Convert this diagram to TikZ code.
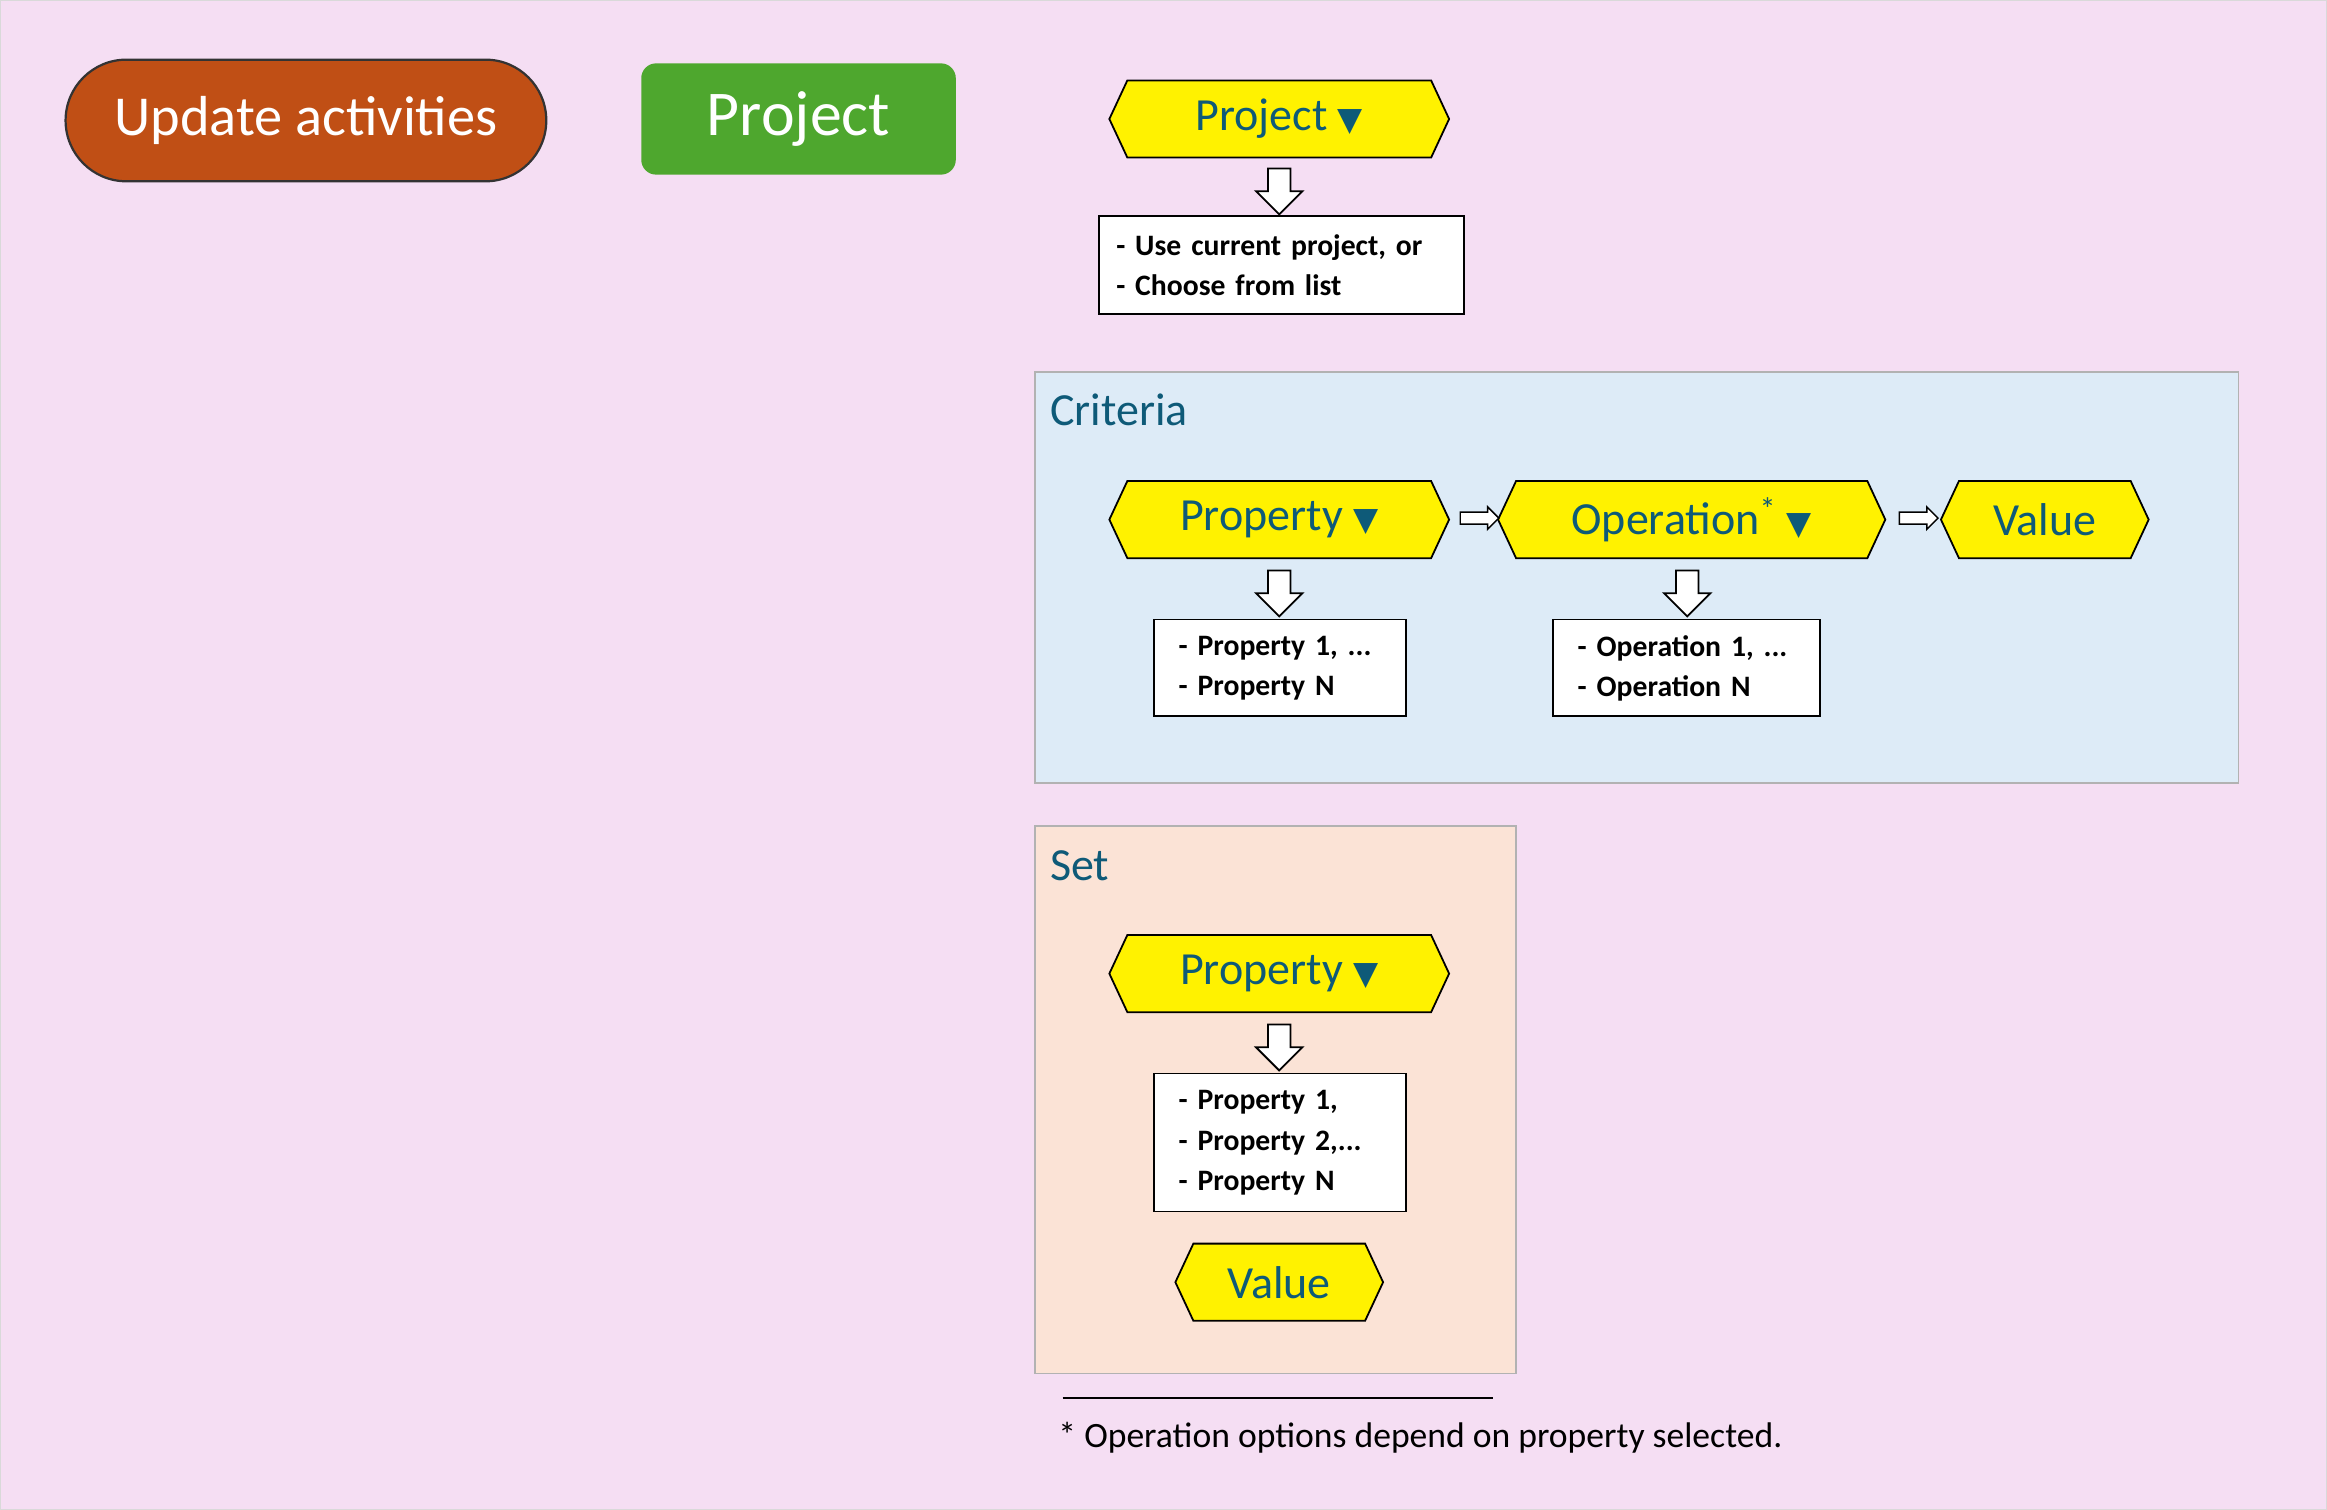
\documentclass[tikz,border=0pt]{standalone}
\usepackage{fontspec}
\setmainfont{Carlito}
\newfontfamily\symf{DejaVu Sans}
\usetikzlibrary{shapes.symbols,shapes.arrows}
\definecolor{bgpink}{HTML}{F5DEF3}
\definecolor{teal}{HTML}{0E5A78}
\definecolor{rust}{HTML}{C04F15}
\definecolor{grn}{HTML}{4EA72E}
\definecolor{blu}{HTML}{DDEBF7}
\definecolor{peach}{HTML}{FBE3D6}
\newcommand{\dn}{{\symf\fontsize{22}{24}\selectfont ▼}}
\begin{document}
\begin{tikzpicture}[x=1pt,y=-1pt,
 hex/.style={signal, signal to=east and west, signal pointer angle=130, draw=black, line width=1.2pt, fill=yellow, text=teal, font=\fontsize{31}{33}\selectfont, minimum height=52pt, inner sep=0pt, anchor=center},
 lst/.style={draw=black, line width=1pt, fill=white, anchor=north west, align=left, font=\fontsize{20}{27}\selectfont\bfseries, inner sep=0pt},
 darr/.style={single arrow, draw=black, line width=1.2pt, fill=white, shape border rotate=270, minimum height=31pt, minimum width=30pt, single arrow head extend=8pt, inner sep=7pt},
 rarr/.style={single arrow, draw=black, line width=1pt, fill=white, minimum height=26pt, minimum width=14pt, single arrow head extend=3.5pt, inner sep=3.5pt},
 panel/.style={draw=black!30, line width=1pt},
 ttl/.style={anchor=west, text=teal, font=\fontsize{31}{33}\selectfont}]
\fill[bgpink,draw=black!15] (0,0) rectangle (1568,1017);
\useasboundingbox (0,0) rectangle (1568,1017);
\node (upd) [draw=black!80, line width=1.5pt, fill=rust, text=white, rounded corners=41pt, minimum width=324pt, minimum height=82pt, font=\fontsize{38}{40}\selectfont] at (206,81) {Update activities};
\node (proj) [fill=grn, text=white, rounded corners=10pt, minimum width=212pt, minimum height=75pt, font=\fontsize{43}{45}\selectfont] at (538,80) {Project};
\node (ph) [hex, minimum width=229pt] at (862,80) {Project \dn};
\node (pa) [darr] at (862,125) {};
\node (pl) [lst, minimum width=246pt, minimum height=66pt, text width=236pt, inner xsep=5pt] at (740,145) {\,\,- Use current project, or\\\,\,- Choose from list};
% Criteria
\node (crit) [panel, fill=blu, minimum width=811pt, minimum height=277pt, anchor=north west] at (697,250) {};
\node (critt) [ttl] at (704,276) {Criteria};
\node (cp) [hex, minimum width=229pt] at (862,350) {Property \dn};
\node (co) [hex, minimum width=261pt] at (1140,350) {Operation\textsuperscript{*} \dn};
\node (cv) [hex, minimum width=140pt] at (1378,350) {Value};
\node (ra1) [rarr] at (995,349) {};
\node (ra2) [rarr] at (1291,349) {};
\node (cpa) [darr] at (862,396) {};
\node (coa) [darr] at (1137,396) {};
\node (cpl) [lst, minimum width=170pt, minimum height=65pt, text width=150pt, inner xsep=10pt] at (777,417) {\,\,- Property 1, ...\\\,\,- Property N};
\node (col) [lst, minimum width=180pt, minimum height=65pt, text width=160pt, inner xsep=10pt] at (1046,417) {\,\,- Operation 1, ...\\\,\,- Operation N};
% Set
\node (set) [panel, fill=peach, minimum width=324pt, minimum height=369pt, anchor=north west] at (697,556) {};
\node (sett) [ttl] at (704,583) {Set};
\node (sp) [hex, minimum width=229pt] at (862,656) {Property \dn};
\node (spa) [darr] at (862,702) {};
\node (spl) [lst, minimum width=170pt, minimum height=93pt, text width=150pt, inner xsep=10pt] at (777,723) {\,\,- Property 1,\\\,\,- Property 2,...\\\,\,- Property N};
\node (sv) [hex, minimum width=140pt] at (862,864) {Value};
% footnote
\coordinate (fa) at (716,942);
\coordinate (fb) at (1006,942);
\draw[line width=1.2pt] (fa) -- (fb);
\node (fn) [anchor=west, font=\fontsize{24}{27}\selectfont, inner sep=0pt] at (713,969) {* Operation options depend on property selected.};
\end{tikzpicture}
\end{document}
